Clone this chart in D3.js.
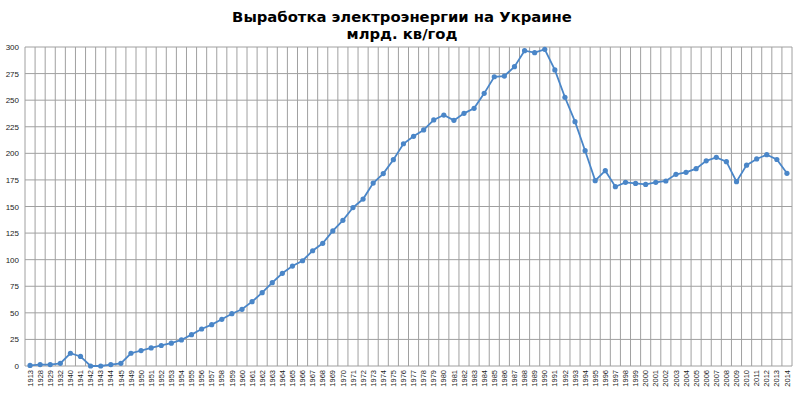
<!DOCTYPE html>
<html>
<head>
<meta charset="utf-8">
<script src="https://cdn.jsdelivr.net/npm/d3@7"></script>
<style>
  body { margin: 0; background: #fff; }
  .grid line { stroke: #a0a0a0; stroke-width: 1; }
  .axis path, .axis line { display: none; }
</style>
</head>
<body>
<div id="chart"></div>
<script>
// Данные: годы и выработка (млрд. кВт·ч)
var years = ["1913","1928","1929","1932","1940","1941","1942","1943","1944","1945",
  "1949","1950","1951","1952","1953","1954","1955","1956","1957","1958","1959",
  "1960","1961","1962","1963","1964","1965","1966","1967","1968","1969",
  "1970","1971","1972","1973","1974","1975","1976","1977","1978","1979",
  "1980","1981","1982","1983","1984","1985","1986","1987","1988","1989",
  "1990","1991","1992","1993","1994","1995","1996","1997","1998","1999",
  "2000","2001","2002","2003","2004","2005","2006","2007","2008","2009",
  "2010","2011","2012","2013","2014"];

var values = [0.5, 1.3, 1.3, 2.5, 12, 9, 0, 0, 1.3, 2.5,
  12, 14.5, 17, 19.3, 21.5, 24.5, 29.5, 34.8, 38.9, 43.9, 49.2,
  53.3, 60.5, 69, 78.4, 87.2, 94, 99, 108.4, 115.4, 127,
  137, 149, 157, 172, 181, 194, 209, 216, 222, 231.4,
  236, 231, 237.6, 242.3, 256.4, 272, 272.7, 281.5, 296.5, 294.7,
  297.8, 278.4, 252.7, 229.8, 202.5, 174.3, 183.7, 168.6, 172.7, 171.7,
  170.8, 172.7, 174, 180.3, 182.1, 185.6, 193, 196.2, 192.2, 173.3,
  188.9, 194.7, 198.7, 194.2, 181.2];

var yTicks = [0, 25, 50, 75, 100, 125, 150, 175, 200, 225, 250, 275, 300];

var titleLines = ["Выработка электроэнергии на Украине", "млрд. кв/год"];

// Размеры
var W = 800, H = 393;
var margin = {top: 47, right: 8, bottom: 27, left: 25},
    width = W - margin.left - margin.right,
    height = H - margin.top - margin.bottom;

var svg = d3.select("#chart").append("svg")
    .attr("width", W)
    .attr("height", H);

// Заголовок
svg.selectAll("text.title")
    .data(titleLines)
  .enter().append("text")
    .attr("class", "title")
    .attr("x", 402)
    .attr("y", function(d, i) { return 22 + i * 17; })
    .attr("text-anchor", "middle")
    .style("font-family", "'DejaVu Sans', sans-serif")
    .style("font-weight", "bold")
    .style("font-size", "14.8px")
    .text(function(d) { return d; });

var g = svg.append("g")
    .attr("transform", "translate(" + margin.left + "," + margin.top + ")");

var x = d3.scaleBand().domain(years).range([0, width]).padding(0);
var y = d3.scaleLinear().domain([0, 300]).range([height, 0]);

// Сетка горизонтальная
g.append("g")
    .attr("class", "grid")
  .selectAll("line")
    .data(yTicks)
  .enter().append("line")
    .attr("x1", 0).attr("x2", width)
    .attr("y1", function(d) { return y(d); })
    .attr("y2", function(d) { return y(d); });

// Сетка вертикальная (границы категорий)
g.append("g")
    .attr("class", "grid")
  .selectAll("line")
    .data(years.concat(["end"]))
  .enter().append("line")
    .attr("x1", function(d, i) { return i * x.step(); })
    .attr("x2", function(d, i) { return i * x.step(); })
    .attr("y1", 0).attr("y2", height);

// Ось Y
var yAxis = d3.axisLeft(y).tickValues(yTicks).tickSize(0).tickPadding(6);
g.append("g")
    .attr("class", "axis")
    .call(yAxis)
    .selectAll("text")
    .style("font-family", "'Liberation Sans', sans-serif")
    .style("font-size", "8px")
    .style("fill", "#222");

// Ось X
var xAxis = d3.axisBottom(x).tickSize(0).tickPadding(4);
g.append("g")
    .attr("class", "axis")
    .attr("transform", "translate(0," + height + ")")
    .call(xAxis)
    .selectAll("text")
    .style("font-family", "'Liberation Sans', sans-serif")
    .style("font-size", "7.5px")
    .style("fill", "#222")
    .attr("text-anchor", "end")
    .attr("dy", "0.35em")
    .attr("transform", "rotate(-90)")
    .attr("x", -4)
    .attr("y", 0);

// Линия
var line = d3.line()
    .x(function(d, i) { return x(years[i]) + x.bandwidth() / 2; })
    .y(function(d) { return y(d); });

g.append("path")
    .datum(values)
    .attr("fill", "none")
    .attr("stroke", "#4a86c8")
    .attr("stroke-width", 1.8)
    .attr("d", line);

g.selectAll("circle.dot")
    .data(values)
  .enter().append("circle")
    .attr("class", "dot")
    .attr("cx", function(d, i) { return x(years[i]) + x.bandwidth() / 2; })
    .attr("cy", function(d) { return y(d); })
    .attr("r", 2.6)
    .attr("fill", "#4a86c8");
</script>
</body>
</html>
